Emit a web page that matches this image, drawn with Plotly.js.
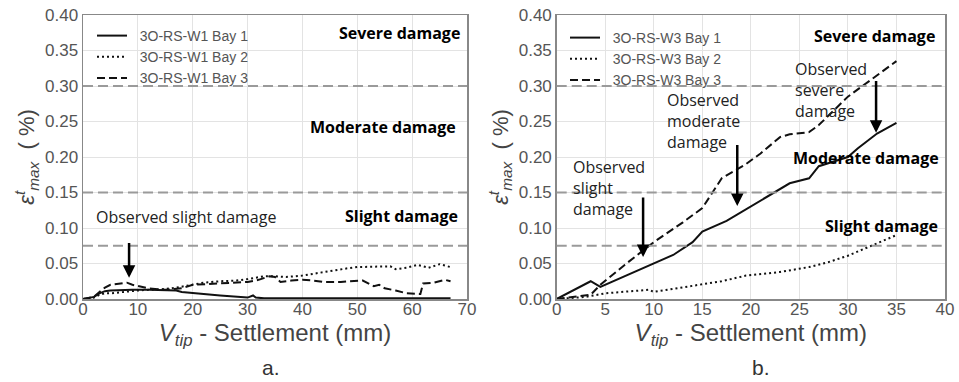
<!DOCTYPE html>
<html>
<head>
<meta charset="utf-8">
<script src="https://cdn.plot.ly/plotly-3.0.1.min.js"></script>
<style>html,body{margin:0;padding:0;background:#fff;}#chart{width:959px;height:382px;}</style>
</head>
<body>
<div id="chart"></div>
<script>
// ---- Panel a (3O-RS-W1) ----
const w1Bay1X = [0, 1, 2, 3, 4, 5, 7, 9, 12, 15, 17, 18, 20, 22, 25, 28, 29, 30, 31, 31.5, 33, 36, 40, 45, 50, 55, 60, 67];
const w1Bay1Y = [0.0, 0.001, 0.003, 0.008, 0.011, 0.012, 0.013, 0.013, 0.013, 0.013, 0.012, 0.010, 0.008, 0.007, 0.005, 0.003, 0.002, 0.002, 0.005, 0.002, 0.001, 0.001, 0.001, 0.0005, 0.0005, 0.0005, 0.0005, 0.001];
const w1Bay2X = [0, 2, 3, 4, 5, 7, 9, 10, 12, 15, 17, 20, 22, 25, 28, 30, 33, 35, 37, 40, 43, 45, 48, 50, 53, 55, 56, 57, 59, 61, 63, 65, 67];
const w1Bay2Y = [0.0, 0.002, 0.006, 0.008, 0.008, 0.010, 0.012, 0.012, 0.013, 0.014, 0.016, 0.020, 0.023, 0.025, 0.026, 0.028, 0.032, 0.032, 0.031, 0.033, 0.037, 0.040, 0.043, 0.045, 0.045, 0.046, 0.046, 0.042, 0.044, 0.048, 0.044, 0.049, 0.045];
const w1Bay3X = [0, 2, 3, 4, 5, 7, 8, 9, 10, 12, 15, 17, 18, 20, 22, 25, 28, 30, 32, 34, 35, 36, 38, 40, 42, 44, 47, 50, 51, 52, 53, 54, 55, 57, 59, 61.5, 62, 64, 65, 66, 67];
const w1Bay3Y = [0.0, 0.003, 0.010, 0.016, 0.020, 0.022, 0.023, 0.020, 0.018, 0.015, 0.013, 0.014, 0.015, 0.020, 0.021, 0.022, 0.023, 0.024, 0.027, 0.032, 0.031, 0.024, 0.026, 0.027, 0.026, 0.024, 0.024, 0.025, 0.026, 0.022, 0.018, 0.020, 0.015, 0.012, 0.008, 0.007, 0.022, 0.023, 0.025, 0.027, 0.025];

// ---- Panel b (3O-RS-W3) ----
const w3Bay1X = [0, 3.5, 4.5, 7, 10, 12, 14, 15, 17.5, 20, 23, 24, 26, 27, 30, 31, 33, 35];
const w3Bay1Y = [0.0, 0.025, 0.017, 0.032, 0.050, 0.062, 0.080, 0.095, 0.110, 0.130, 0.155, 0.163, 0.170, 0.187, 0.200, 0.212, 0.233, 0.248];
const w3Bay2X = [0, 3, 5, 9.5, 10, 12, 14, 17, 19.5, 21, 23, 26, 28, 30, 31, 33, 35];
const w3Bay2Y = [0.0, 0.003, 0.008, 0.013, 0.010, 0.014, 0.018, 0.025, 0.033, 0.035, 0.038, 0.045, 0.052, 0.061, 0.067, 0.078, 0.090];
const w3Bay3X = [0, 3.5, 4.5, 7, 10, 13, 15, 17, 19.5, 21, 23, 24, 26, 27, 30, 33, 35];
const w3Bay3Y = [0.0, 0.006, 0.020, 0.048, 0.080, 0.108, 0.128, 0.170, 0.190, 0.205, 0.228, 0.232, 0.235, 0.245, 0.285, 0.315, 0.335];

// damage thresholds (%)
const thresholds = [0.075, 0.15, 0.30];
const damageLabels = ["Severe damage", "Moderate damage", "Slight damage"];
const yTicks = [0, 0.05, 0.10, 0.15, 0.20, 0.25, 0.30, 0.35, 0.40];
const xTicksA = [0, 10, 20, 30, 40, 50, 60, 70];
const xTicksB = [0, 5, 10, 15, 20, 25, 30, 35, 40];
// observed-damage arrows: [x, yTail, yHead]
const arrowsA = [[8.4, 0.081, 0.030]];
const arrowsB = [[8.9, 0.145, 0.059], [18.6, 0.219, 0.131], [32.9, 0.309, 0.234]];

const lineCol = '#111';
const dashes = {solid: 'solid', dot: '2px,3px', dash: '8px,4px'};
function tr(x, y, name, dash, xa, ya, leg) {
  return {x: x, y: y, name: '&nbsp;&nbsp;' + name, type: 'scatter', mode: 'lines', xaxis: xa, yaxis: ya,
    legend: leg, line: {color: lineCol, width: 2, dash: dashes[dash]}};
}
const data = [
  tr(w1Bay1X, w1Bay1Y, '3O-RS-W1 Bay 1', 'solid', 'x', 'y', 'legend'),
  tr(w1Bay2X, w1Bay2Y, '3O-RS-W1 Bay 2', 'dot', 'x', 'y', 'legend'),
  tr(w1Bay3X, w1Bay3Y, '3O-RS-W1 Bay 3', 'dash', 'x', 'y', 'legend'),
  tr(w3Bay1X, w3Bay1Y, '3O-RS-W3 Bay 1', 'solid', 'x2', 'y2', 'legend2'),
  tr(w3Bay2X, w3Bay2Y, '3O-RS-W3 Bay 2', 'dot', 'x2', 'y2', 'legend2'),
  tr(w3Bay3X, w3Bay3Y, '3O-RS-W3 Bay 3', 'dash', 'x2', 'y2', 'legend2')
];

const W = 959, H = 382;
const tickFont = {family: 'Liberation Sans, Arial, sans-serif', size: 17, color: '#555'};
const titleFont = {family: 'Liberation Sans, Arial, sans-serif', size: 24, color: '#444'};
const xTitle = '<i>V</i><sub><i>tip</i></sub> - Settlement (mm)';
const yTitle = '<i>ε</i><sup><i>t</i></sup><sub><i>max</i></sub>  ( %)';
function xaxis(dom, range, ticks, anchor) {
  return {domain: dom, range: range, tickvals: ticks, ticktext: ticks.map(String), anchor: anchor,
    showgrid: true, gridcolor: '#e3e3e3', gridwidth: 1, zeroline: false,
    showline: true, linecolor: '#888', linewidth: 1.5, mirror: true, ticks: '', ticklabelstandoff: -6,
    tickfont: tickFont, title: {text: xTitle, font: titleFont, standoff: 0}};
}
function yaxis(dom, anchor) {
  return {domain: dom, range: [0, 0.4], tickvals: yTicks, ticktext: yTicks.map(v => v.toFixed(2)), anchor: anchor,
    showgrid: true, gridcolor: '#e3e3e3', gridwidth: 1, zeroline: false,
    showline: true, linecolor: '#888', linewidth: 1.5, mirror: true, ticks: '',
    tickfont: tickFont, title: {text: yTitle, font: {family: titleFont.family, size: 22, color: '#444'}, standoff: 4}};
}
const yDom = [1 - 299 / H, 1 - 15 / H];

const shapes = [];
[['x', 'y'], ['x2', 'y2']].forEach(([xa, ya]) => {
  thresholds.forEach(t => shapes.push({type: 'line', xref: xa + ' domain', yref: ya, x0: 0, x1: 1, y0: t, y1: t,
    line: {color: '#9a9a9a', width: 2, dash: '10px,5px'}}));
});

const annotations = [];
const boldFont = {family: 'Open Sans, sans-serif', size: 16, color: '#000', weight: 'bold'};
const obsFont = {family: 'Open Sans, sans-serif', size: 16, color: '#222'};
// damage region labels
const labPosA = [[0.986, 0.3746], [0.977, 0.2417], [0.982, 0.1173]];
const labPosB = [[0.979, 0.3705], [0.99, 0.198], [0.987, 0.1025]];
damageLabels.forEach((t, i) => {
  annotations.push({xref: 'x domain', yref: 'y', x: labPosA[i][0], y: labPosA[i][1], text: '<b>' + t + '</b>',
    showarrow: false, xanchor: 'right', yanchor: 'middle', font: boldFont});
  annotations.push({xref: 'x2 domain', yref: 'y2', x: labPosB[i][0], y: labPosB[i][1], text: '<b>' + t + '</b>',
    showarrow: false, xanchor: 'right', yanchor: 'middle', font: boldFont});
});
annotations.push({xref: 'x', yref: 'y', x: 2.0, y: 0.116, text: 'Observed slight damage', showarrow: false,
  xanchor: 'left', yanchor: 'middle', font: obsFont});
const obsB = [[1.5, 0.156, 'Observed<br>slight<br>damage'], [11.2, 0.25, 'Observed<br>moderate<br>damage'], [24.3, 0.295, 'Observed<br>severe<br>damage']];
obsB.forEach(o => annotations.push({xref: 'x2', yref: 'y2', x: o[0], y: o[1], text: o[2], showarrow: false,
  xanchor: 'left', yanchor: 'middle', align: 'left', font: obsFont}));
function arrow(a, xa, ya) {
  return {xref: xa, yref: ya, axref: xa, ayref: ya, x: a[0], y: a[2], ax: a[0], ay: a[1], text: '',
    showarrow: true, arrowhead: 2, arrowsize: 1, arrowwidth: 2.5, arrowcolor: '#000'};
}
arrowsA.forEach(a => annotations.push(arrow(a, 'x', 'y')));
arrowsB.forEach(a => annotations.push(arrow(a, 'x2', 'y2')));
// panel letters
annotations.push({xref: 'paper', yref: 'paper', x: 260 / W, y: 1 / H, yanchor: 'bottom', text: 'a.', showarrow: false,
  font: {family: 'Liberation Sans, Arial, sans-serif', size: 21, color: '#333'}});
annotations.push({xref: 'paper', yref: 'paper', x: 772 / W, y: 1 / H, yanchor: 'bottom', text: 'b.', showarrow: false,
  font: {family: 'Liberation Sans, Arial, sans-serif', size: 21, color: '#333'}});

const legFont = {family: 'Liberation Sans, Arial, sans-serif', size: 14, color: '#555'};
const layout = {
  width: W, height: H, margin: {l: 0, r: 0, t: 0, b: 0}, paper_bgcolor: '#fff', plot_bgcolor: '#fff',
  showlegend: true,
  xaxis: xaxis([83 / W, 467 / W], [0, 70], xTicksA, 'y'),
  yaxis: yaxis(yDom, 'x'),
  xaxis2: xaxis([556.7 / W, 945 / W], [0, 40], xTicksB, 'y2'),
  yaxis2: yaxis(yDom, 'x2'),
  legend: {x: 92 / W, y: 1 - 20 / H, xanchor: 'left', yanchor: 'top', bgcolor: 'rgba(0,0,0,0)', font: legFont, tracegroupgap: 0},
  legend2: {x: 565 / W, y: 1 - 22 / H, xanchor: 'left', yanchor: 'top', bgcolor: 'rgba(0,0,0,0)', font: legFont, tracegroupgap: 0},
  shapes: shapes, annotations: annotations
};
Plotly.newPlot('chart', data, layout, {displayModeBar: false, staticPlot: true});
</script>
</body>
</html>
